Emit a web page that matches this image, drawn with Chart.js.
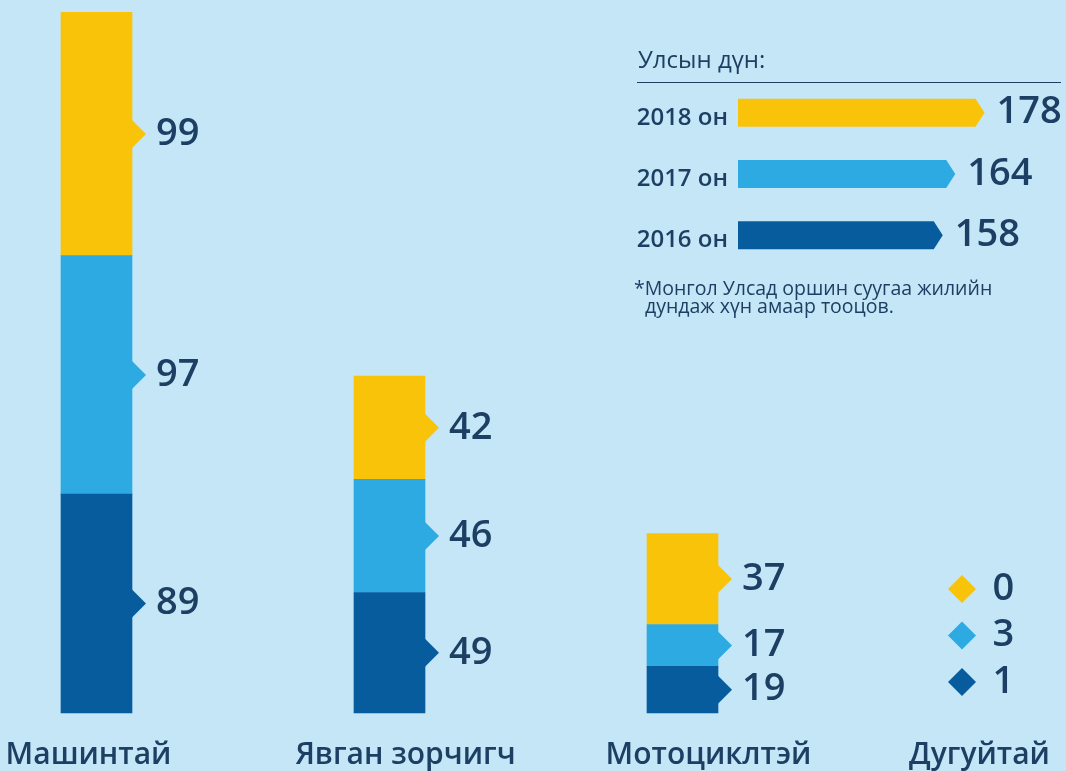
<!DOCTYPE html>
<html lang="mn">
<head>
<meta charset="utf-8">
<title>Осол</title>
<script src="https://cdn.jsdelivr.net/npm/chart.js@4.4.0/dist/chart.umd.min.js"></script>
<style>
  body { margin: 0; background: #c5e6f7; font-family: "Open Sans", sans-serif; color: #1d3f63; }
  #wrap { position: relative; width: 1066px; height: 771px; overflow: hidden; }
  #chart-main { position: absolute; left: 0; top: 0; }
  #chart-total { position: absolute; left: 630px; top: 82px; }
  .total-title { position: absolute; left: 638px; top: 47px; font-size: 24px; line-height: 24px; }
  .total-line { position: absolute; left: 637px; top: 82px; width: 424px; border-top: 1.5px solid #1d3f63; }
  .note { position: absolute; left: 634px; top: 279px; font-size: 19.5px; line-height: 17.5px; white-space: nowrap; }
  .note span { padding-left: 11px; }
</style>
</head>
<body>
<div id="wrap">
  <canvas id="chart-main" width="1066" height="771"></canvas>
  <canvas id="chart-total" width="436" height="184"></canvas>
  <div class="total-title">Улсын дүн:</div>
  <div class="total-line"></div>
  <div class="note">*Монгол Улсад оршин суугаа жилийн<br><span>дундаж хүн амаар тооцов.</span></div>
</div>
<script>
  // main stacked chart
  const categories = ["Машинтай", "Явган зорчигч", "Мотоциклтэй", "Дугуйтай"];
  const years = ["2016", "2017", "2018"];
  const values2016 = [89, 49, 19, 1];
  const values2017 = [97, 46, 17, 3];
  const values2018 = [99, 42, 37, 0];
  const yearColors = ["#075c9e", "#2eaae2", "#f8c309"];
  // the category names are not quite centred under the bars in the original
  const nameNudge = [-8, 16, 26, 4];

  // inset: national totals
  const totalLabels = ["2018 он", "2017 он", "2016 он"];
  const totalValues = [178, 164, 158];
  const totalColors = ["#f8c309", "#2eaae2", "#075c9e"];

  const textColor = "#1d3f63";
  const numberFont = '600 38px "Open Sans"';

  // little arrow notch + value next to every segment, diamonds for the last group
  const segmentLabels = {
    id: "segmentLabels",
    afterDatasetsDraw(chart) {
      const ctx = chart.ctx;
      const bottom = chart.chartArea.bottom;
      ctx.save();
      ctx.font = numberFont;
      ctx.textBaseline = "middle";
      ctx.textAlign = "left";
      chart.data.datasets.forEach((ds, i) => {
        const meta = chart.getDatasetMeta(i);
        meta.data.forEach((el, j) => {
          const color = yearColors[i];
          const value = ds.data[j];
          if (j === 3) {
            const cx = el.x - 13.5;
            const cy = bottom - 31 - i * 46.5;
            ctx.fillStyle = color;
            ctx.beginPath();
            ctx.moveTo(cx, cy - 14);
            ctx.lineTo(cx + 14, cy);
            ctx.lineTo(cx, cy + 14);
            ctx.lineTo(cx - 14, cy);
            ctx.closePath();
            ctx.fill();
            ctx.fillStyle = textColor;
            ctx.fillText(value, el.x + 17, cy);
            return;
          }
          const right = el.x + el.width / 2;
          const mid = (el.y + el.base) / 2;
          ctx.fillStyle = color;
          ctx.beginPath();
          ctx.moveTo(right - 1, mid - 15);
          ctx.lineTo(right + 14, mid);
          ctx.lineTo(right - 1, mid + 15);
          ctx.closePath();
          ctx.fill();
          ctx.fillStyle = textColor;
          ctx.fillText(value, right + 24, mid);
        });
      });
      // category names under the bars
      const xScale = chart.scales.x;
      ctx.font = '600 30px "Open Sans"';
      ctx.textAlign = "center";
      ctx.textBaseline = "alphabetic";
      categories.forEach((name, j) => {
        ctx.fillText(name, xScale.getPixelForValue(j) + nameNudge[j], bottom + 51);
      });
      ctx.restore();
    },
  };

  new Chart(document.getElementById("chart-main"), {
    type: "bar",
    data: {
      labels: categories,
      datasets: [values2016, values2017, values2018].map((vals, i) => ({
        label: years[i],
        data: vals,
        backgroundColor: (c) => (c.dataIndex === 3 ? "rgba(0,0,0,0)" : yearColors[i]),
        barThickness: 71,
        clip: false,
      })),
    },
    options: {
      responsive: false,
      animation: false,
      layout: { padding: { left: 96.5, right: 90.5, top: 0, bottom: 0 } },
      plugins: { legend: { display: false }, tooltip: { enabled: false } },
      scales: {
        x: {
          stacked: true,
          offset: false,
          grid: { display: false, drawTicks: false },
          border: { display: false },
          ticks: { display: false },
          afterFit: (scale) => {
            scale.height = 58;
            scale.paddingLeft = 0;
            scale.paddingRight = 0;
          },
        },
        y: { stacked: true, display: false, min: 0, max: 290 },
      },
    },
    plugins: [segmentLabels],
  });

  // arrow shaped bars in the inset
  const arrowBars = {
    id: "arrowBars",
    beforeDatasetDraw() {
      return false;
    },
    afterDatasetsDraw(chart) {
      const ctx = chart.ctx;
      const meta = chart.getDatasetMeta(0);
      const left = chart.chartArea.left;
      ctx.save();
      meta.data.forEach((el, j) => {
        const h = el.height / 2;
        ctx.fillStyle = totalColors[j];
        ctx.beginPath();
        ctx.moveTo(left, el.y - h);
        ctx.lineTo(el.x - 9, el.y - h);
        ctx.lineTo(el.x, el.y);
        ctx.lineTo(el.x - 9, el.y + h);
        ctx.lineTo(left, el.y + h);
        ctx.closePath();
        ctx.fill();
        ctx.fillStyle = textColor;
        ctx.font = numberFont;
        ctx.textBaseline = "middle";
        ctx.fillText(totalValues[j], el.x + 12, el.y);
      });
      ctx.restore();
    },
  };

  new Chart(document.getElementById("chart-total"), {
    type: "bar",
    data: {
      labels: totalLabels,
      datasets: [
        {
          label: "Улсын дүн",
          data: totalValues,
          backgroundColor: totalColors,
          barThickness: 28,
        },
      ],
    },
    options: {
      indexAxis: "y",
      responsive: false,
      animation: false,
      layout: { padding: 0 },
      plugins: { legend: { display: false }, tooltip: { enabled: false } },
      scales: {
        x: { display: false, min: 60, max: 217 },
        y: {
          grid: { display: false, drawTicks: false },
          border: { display: false },
          afterFit: (scale) => {
            scale.width = 108;
            scale.paddingTop = 0;
            scale.paddingBottom = 0;
          },
          ticks: {
            padding: 10,
            labelOffset: 5,
            color: textColor,
            font: { family: "Open Sans", size: 24, weight: "600" },
          },
        },
      },
    },
    plugins: [arrowBars],
  });
</script>
</body>
</html>
